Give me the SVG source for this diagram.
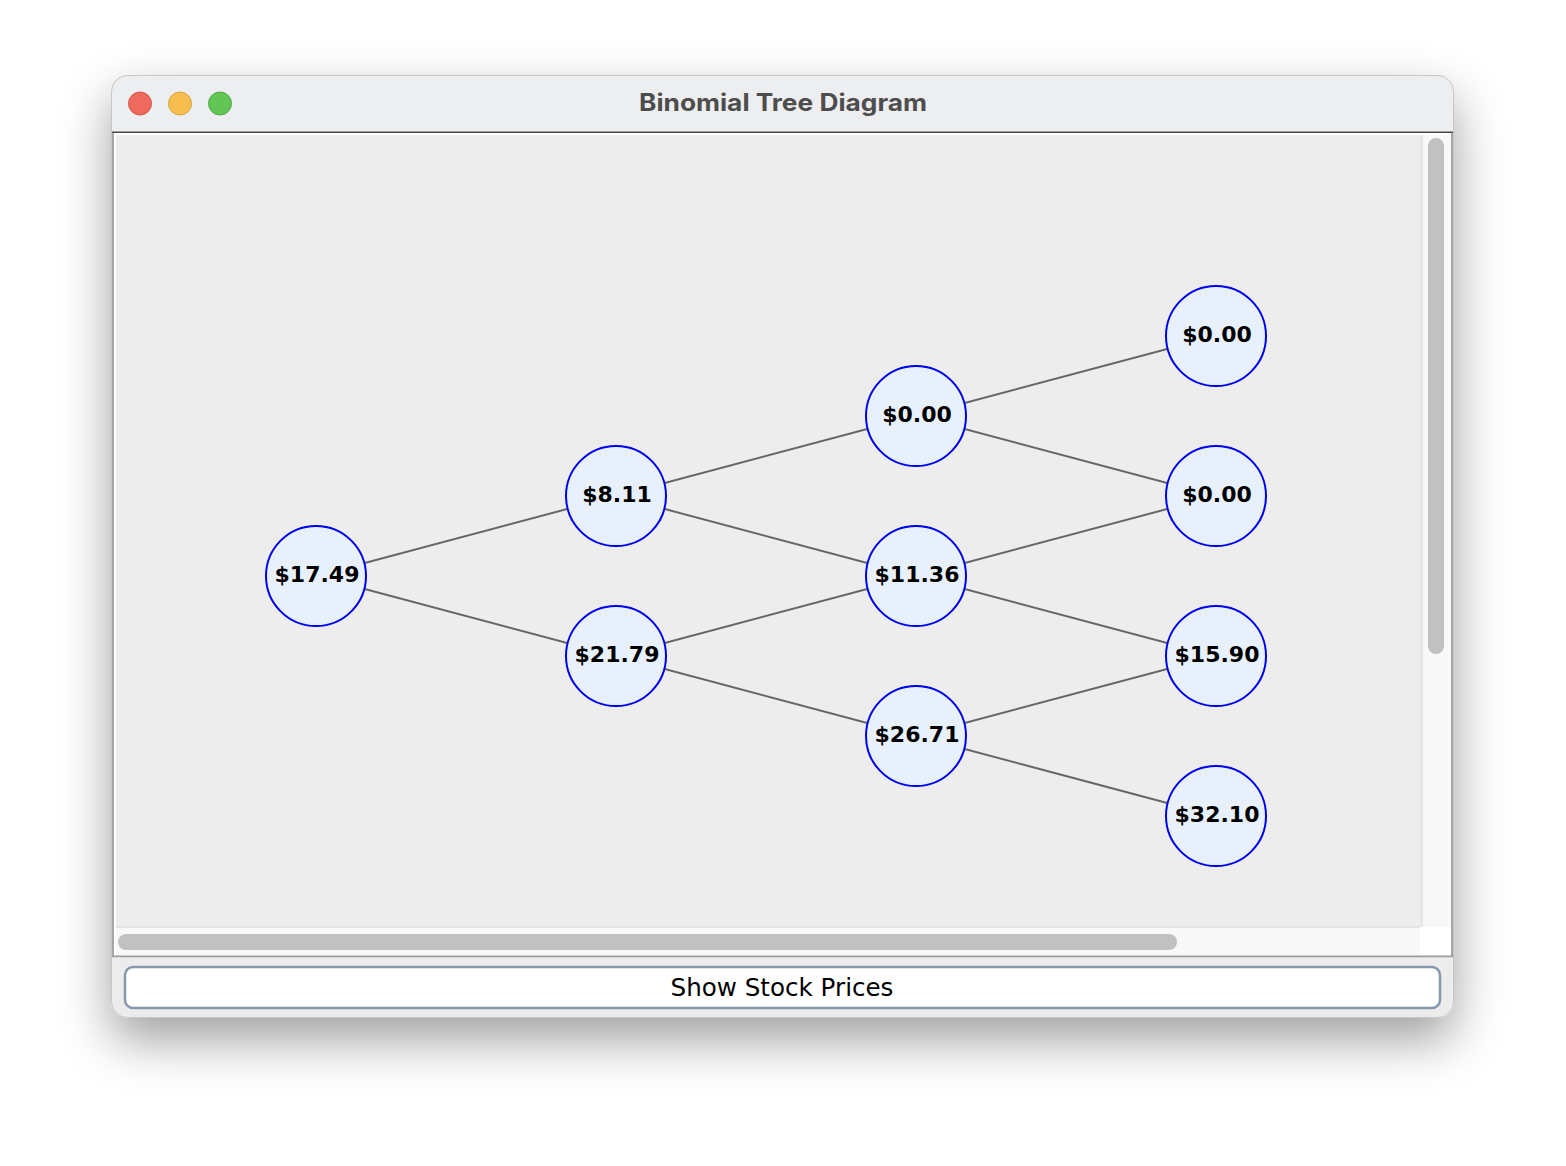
<svg xmlns="http://www.w3.org/2000/svg" width="1566" height="1166" viewBox="0 0 1566 1166">
<defs>
<style>
.edge{stroke:#666666;stroke-width:2;fill:none}
.node circle{fill:#e8f0fc;stroke:#0000f0;stroke-width:2}
.node text{font-family:"DejaVu Sans","Liberation Sans",sans-serif;font-weight:bold;font-size:22px;fill:#000;text-anchor:middle}
.title{font-family:Inter,"Liberation Sans",sans-serif;font-weight:bold;font-size:24px;fill:#4d4d4d;text-anchor:middle}
.btntext{font-family:"DejaVu Sans","Liberation Sans",sans-serif;font-size:24.6px;fill:#000;text-anchor:middle}
.thumb{fill:#c1c1c1}
</style>
<filter id="shadow" x="-10%" y="-10%" width="120%" height="135%">
<feDropShadow dx="0" dy="22" stdDeviation="25" flood-color="#000" flood-opacity="0.38"/>
</filter>
<clipPath id="win"><rect x="111" y="75" width="1343" height="943" rx="16"/></clipPath>
</defs>
<rect x="0" y="0" width="1566" height="1166" fill="#ffffff"/>
<g id="window">
<rect x="111.5" y="75.5" width="1342" height="942" rx="16" fill="#ececec" filter="url(#shadow)"/>
<g clip-path="url(#win)">
<rect x="111" y="75" width="1343" height="58" fill="#edeef0"/>
<rect x="111" y="131.5" width="1343" height="2" fill="#4a4a4a"/>
<rect x="112" y="133" width="4" height="824" fill="#a6a6a6"/>
<rect x="114" y="133" width="1338" height="823" fill="#ffffff"/>
<rect x="116" y="135" width="1304" height="792" fill="#ededed"/>
<rect x="1420" y="135" width="31" height="792" fill="#f8f8f8"/>
<rect x="1420" y="135" width="3" height="792" fill="#e6e6e6"/>
<rect x="116" y="927" width="1304" height="28" fill="#f8f8f8"/>
<rect x="116" y="926" width="1304" height="2" fill="#e4e4e4"/>
<rect x="1420" y="927" width="31" height="28" fill="#ffffff"/>
<rect x="1428" y="138" width="16" height="516" rx="8" class="thumb"/>
<rect x="118" y="934" width="1059" height="16" rx="8" class="thumb"/>
<rect x="1451" y="133" width="2" height="824" fill="#a6a6a6"/>
<rect x="112" y="955.5" width="1341" height="2" fill="#9c9c9c"/>
<rect x="111" y="957.5" width="1343" height="61" fill="#ececec"/>
</g>
<rect x="111.5" y="75.5" width="1342" height="942" rx="16" fill="none" stroke="#c6c6c6" stroke-width="1"/>
<circle cx="140" cy="103.5" r="11.5" fill="#ee6a5f" stroke="#d5554a" stroke-width="1"/>
<circle cx="180" cy="103.5" r="11.5" fill="#f5be4f" stroke="#d9a23c" stroke-width="1"/>
<circle cx="220" cy="103.5" r="11.5" fill="#62c554" stroke="#4fa944" stroke-width="1"/>
<text class="title" x="783" y="111" textLength="288" lengthAdjust="spacingAndGlyphs">Binomial Tree Diagram</text>
</g>
<g id="button">
<rect x="125" y="967" width="1315" height="41" rx="8" fill="#ffffff" stroke="#8797ad" stroke-width="2.5"/>
<text class="btntext" x="782" y="996">Show Stock Prices</text>
</g>
<g id="connectors">
<line class="edge" x1="316" y1="576" x2="616" y2="496"/>
<line class="edge" x1="316" y1="576" x2="616" y2="656"/>
<line class="edge" x1="616" y1="496" x2="916" y2="416"/>
<line class="edge" x1="616" y1="496" x2="916" y2="576"/>
<line class="edge" x1="616" y1="656" x2="916" y2="576"/>
<line class="edge" x1="616" y1="656" x2="916" y2="736"/>
<line class="edge" x1="916" y1="416" x2="1216" y2="336"/>
<line class="edge" x1="916" y1="416" x2="1216" y2="496"/>
<line class="edge" x1="916" y1="576" x2="1216" y2="496"/>
<line class="edge" x1="916" y1="576" x2="1216" y2="656"/>
<line class="edge" x1="916" y1="736" x2="1216" y2="656"/>
<line class="edge" x1="916" y1="736" x2="1216" y2="816"/>
</g>
<g id="n0" class="node"><circle cx="316" cy="576" r="50"/><text x="317" y="582">$17.49</text></g>
<g id="n1" class="node"><circle cx="616" cy="496" r="50"/><text x="617" y="502">$8.11</text></g>
<g id="n2" class="node"><circle cx="616" cy="656" r="50"/><text x="617" y="662">$21.79</text></g>
<g id="n3" class="node"><circle cx="916" cy="416" r="50"/><text x="917" y="422">$0.00</text></g>
<g id="n4" class="node"><circle cx="916" cy="576" r="50"/><text x="917" y="582">$11.36</text></g>
<g id="n5" class="node"><circle cx="916" cy="736" r="50"/><text x="917" y="742">$26.71</text></g>
<g id="n6" class="node"><circle cx="1216" cy="336" r="50"/><text x="1217" y="342">$0.00</text></g>
<g id="n7" class="node"><circle cx="1216" cy="496" r="50"/><text x="1217" y="502">$0.00</text></g>
<g id="n8" class="node"><circle cx="1216" cy="656" r="50"/><text x="1217" y="662">$15.90</text></g>
<g id="n9" class="node"><circle cx="1216" cy="816" r="50"/><text x="1217" y="822">$32.10</text></g>
</svg>
